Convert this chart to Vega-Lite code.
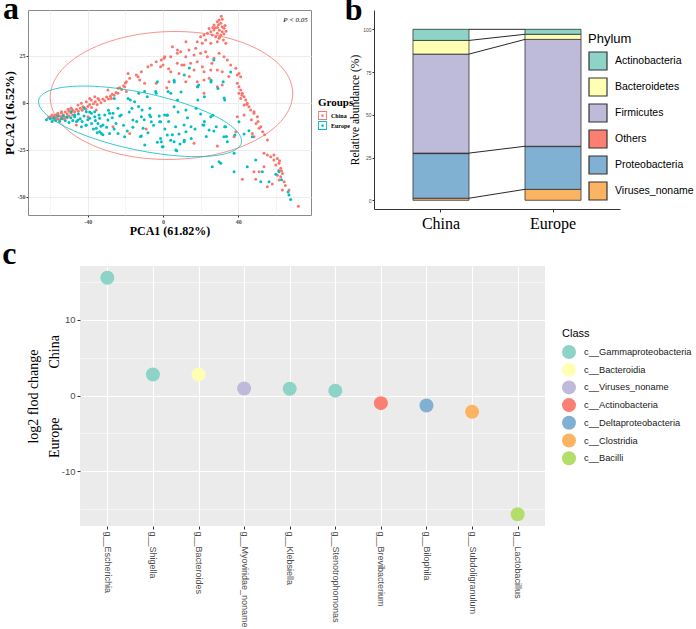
{
"$schema": "https://vega.github.io/schema/vega-lite/v6.json",
"padding": {"left": 2, "top": -8, "right": 0, "bottom": 0},
"background": "white",
"config": {"font": "Liberation Sans", "view": {"stroke": null}},
"datasets": {
"pca": [
{"g":"China","x":27.1,"y":41.3},{"g":"China","x":28.9,"y":43.1},{"g":"China","x":29.8,"y":44},{"g":"China","x":30.7,"y":42.2},{"g":"China","x":31.5,"y":40.4},{"g":"China","x":32.4,"y":39.6},{"g":"China","x":31.5,"y":37.8},{"g":"China","x":28.9,"y":36.9},{"g":"China","x":27.1,"y":38.7},{"g":"China","x":25.4,"y":37.8},{"g":"China","x":26.2,"y":36},{"g":"China","x":28,"y":35.1},{"g":"China","x":29.8,"y":34.3},{"g":"China","x":30.7,"y":36},{"g":"China","x":32.4,"y":36.5},{"g":"China","x":23.6,"y":36.9},{"g":"China","x":21.8,"y":36},{"g":"China","x":20,"y":35.1},{"g":"China","x":22.7,"y":33.4},{"g":"China","x":18.2,"y":32.4},{"g":"China","x":20.9,"y":31.6},{"g":"China","x":25.4,"y":31.6},{"g":"China","x":28.9,"y":32.4},{"g":"China","x":31.5,"y":44.4},{"g":"China","x":32.1,"y":33.4},{"g":"China","x":33.4,"y":31.6},{"g":"China","x":29,"y":40},{"g":"China","x":30,"y":38.5},{"g":"China","x":27.8,"y":39.8},{"g":"China","x":33,"y":41},{"g":"China","x":31,"y":46},{"g":"China","x":29.5,"y":41.5},{"g":"China","x":26.5,"y":40},{"g":"China","x":24.5,"y":39.5},{"g":"China","x":33.5,"y":38},{"g":"China","x":30.2,"y":35},
{"g":"China","x":17.4,"y":28.9},{"g":"China","x":13.8,"y":28},{"g":"China","x":9.4,"y":27.1},{"g":"China","x":7.6,"y":26.3},{"g":"China","x":4.1,"y":24.5},{"g":"China","x":0.5,"y":23.6},{"g":"China","x":12.1,"y":24.5},{"g":"China","x":16.5,"y":25.4},{"g":"China","x":20,"y":26.3},{"g":"China","x":22.7,"y":27.1},{"g":"China","x":23.6,"y":24.5},{"g":"China","x":27.1,"y":23.6},{"g":"China","x":29.8,"y":26.3},{"g":"China","x":32.4,"y":24.5},{"g":"China","x":34.2,"y":22.7},{"g":"China","x":18.2,"y":21.8},{"g":"China","x":14.7,"y":21},{"g":"China","x":11.2,"y":20.1},{"g":"China","x":7.6,"y":21},{"g":"China","x":4.1,"y":16.5},{"g":"China","x":16.5,"y":17.4},{"g":"China","x":20.9,"y":19.1},{"g":"China","x":21.8,"y":16.5},{"g":"China","x":25.4,"y":17.4},{"g":"China","x":28.9,"y":17.4},{"g":"China","x":31.5,"y":16.5},{"g":"China","x":36,"y":20.1},{"g":"China","x":8.5,"y":15.6},{"g":"China","x":12.1,"y":11.2},{"g":"China","x":18.2,"y":11.2},{"g":"China","x":21.8,"y":12.1},{"g":"China","x":24.5,"y":13},{"g":"China","x":18.2,"y":8.5},{"g":"China","x":28.9,"y":8.5},{"g":"China","x":31.5,"y":9.4},{"g":"China","x":21.8,"y":5},{"g":"China","x":3.2,"y":11.2},{"g":"China","x":5,"y":29.8},{"g":"China","x":7.7,"y":28},{"g":"China","x":12.2,"y":32.4},{"g":"China","x":-1.3,"y":19.1},{"g":"China","x":2,"y":8},{"g":"China","x":10,"y":20},{"g":"China","x":14,"y":14},{"g":"China","x":26,"y":21},{"g":"China","x":35,"y":14},{"g":"China","x":3,"y":18},
{"g":"China","x":38.7,"y":18.3},{"g":"China","x":40.4,"y":15.6},{"g":"China","x":41.3,"y":13.8},{"g":"China","x":39.5,"y":10.3},{"g":"China","x":40.4,"y":8.5},{"g":"China","x":41.3,"y":6.8},{"g":"China","x":42.2,"y":5},{"g":"China","x":43.1,"y":3.2},{"g":"China","x":44,"y":1.4},{"g":"China","x":44.8,"y":-0.3},{"g":"China","x":45.7,"y":-2.1},{"g":"China","x":41.3,"y":2.3},{"g":"China","x":43.1,"y":-1.2},{"g":"China","x":46.6,"y":-3.9},{"g":"China","x":48.4,"y":-5.6},{"g":"China","x":40.4,"y":5},{"g":"China","x":39.5,"y":14.7},{"g":"China","x":39.5,"y":-7.4},{"g":"China","x":43.1,"y":-6.5},{"g":"China","x":48.4,"y":-4.8},{"g":"China","x":50.2,"y":-7.4},{"g":"China","x":51.1,"y":-13.6},{"g":"China","x":52,"y":-12.8},{"g":"China","x":47.5,"y":-16.3},{"g":"China","x":48.4,"y":-18.1},{"g":"China","x":55.5,"y":-19.8},{"g":"China","x":38.7,"y":-15.4},{"g":"China","x":37.8,"y":-18.1},{"g":"China","x":42,"y":4},{"g":"China","x":44.5,"y":-1},{"g":"China","x":47,"y":-9},{"g":"China","x":49.5,"y":-11},{"g":"China","x":50.5,"y":-10},{"g":"China","x":53,"y":-15.5},{"g":"China","x":54,"y":-17},
{"g":"China","x":16.5,"y":-21.6},{"g":"China","x":28.9,"y":-23},{"g":"China","x":-26.6,"y":-12.8},{"g":"China","x":-17.7,"y":-16.3},{"g":"China","x":-8.9,"y":-14},{"g":"China","x":-46.1,"y":-11.9},{"g":"China","x":-35.5,"y":-3.9},{"g":"China","x":-39.9,"y":-7.4},
{"g":"China","x":42.2,"y":-40.7},{"g":"China","x":49.3,"y":-40.7},{"g":"China","x":53.7,"y":-26.9},{"g":"China","x":55.5,"y":-27.8},{"g":"China","x":57.3,"y":-28.7},{"g":"China","x":59,"y":-27.8},{"g":"China","x":60.8,"y":-29.6},{"g":"China","x":61.7,"y":-32.2},{"g":"China","x":62.6,"y":-34.9},{"g":"China","x":63.5,"y":-37.6},{"g":"China","x":60.8,"y":-38.5},{"g":"China","x":61.7,"y":-41.1},{"g":"China","x":64.4,"y":-42},{"g":"China","x":58.1,"y":-43.2},{"g":"China","x":55.5,"y":-44.7},{"g":"China","x":63.5,"y":-46.4},{"g":"China","x":67,"y":-46.4},{"g":"China","x":48.4,"y":-36.7},{"g":"China","x":51.1,"y":-36.7},{"g":"China","x":53.7,"y":-34},{"g":"China","x":72,"y":-55},{"g":"China","x":59,"y":-30.5},{"g":"China","x":60,"y":-33.1},{"g":"China","x":62.6,"y":-39.4},{"g":"China","x":61.5,"y":-36},{"g":"China","x":62,"y":-30.8},{"g":"China","x":63,"y":-36.2},{"g":"China","x":65,"y":-44},
{"g":"China","x":-3.6,"y":21.8},{"g":"China","x":-0.9,"y":22.7},{"g":"China","x":0.9,"y":24.5},{"g":"China","x":0,"y":20.1},{"g":"China","x":-6.2,"y":20.1},{"g":"China","x":-8,"y":19.1},{"g":"China","x":-11.5,"y":16.5},{"g":"China","x":-14.2,"y":14.7},{"g":"China","x":-18.6,"y":15.6},{"g":"China","x":-13.3,"y":13.8},{"g":"China","x":-12.4,"y":12.1},{"g":"China","x":-19.5,"y":11.2},{"g":"China","x":-17.7,"y":13},{"g":"China","x":-20.4,"y":8.5},{"g":"China","x":-23.9,"y":7.7},{"g":"China","x":-29.3,"y":6.8},{"g":"China","x":-36.3,"y":3.2},{"g":"China","x":-34.6,"y":2.3},{"g":"China","x":-39,"y":2.3},{"g":"China","x":-38.1,"y":1.4},{"g":"China","x":-40.8,"y":0.5},{"g":"China","x":-43.4,"y":-0.3},{"g":"China","x":-42.6,"y":-2.1},{"g":"China","x":-45.2,"y":-1.2},{"g":"China","x":-48.8,"y":-3},{"g":"China","x":-50.5,"y":-3.5},{"g":"China","x":-54,"y":-4.8},{"g":"China","x":-55.9,"y":-5.6},{"g":"China","x":-19.5,"y":5.9},{"g":"China","x":-27.5,"y":2.3},{"g":"China","x":-3.6,"y":10.3},{"g":"China","x":-9.8,"y":10.3},
{"g":"China","x":-61,"y":-8},{"g":"China","x":-60,"y":-7.5},{"g":"China","x":-59,"y":-8},{"g":"China","x":-58,"y":-7},{"g":"China","x":-57,"y":-6.5},{"g":"China","x":-57,"y":-8},{"g":"China","x":-56,"y":-6},{"g":"China","x":-55,"y":-7},{"g":"China","x":-54,"y":-5.5},{"g":"China","x":-53,"y":-6.5},{"g":"China","x":-52,"y":-5},{"g":"China","x":-51,"y":-6},{"g":"China","x":-50,"y":-4.5},{"g":"China","x":-49,"y":-5.5},{"g":"China","x":-48,"y":-4},{"g":"China","x":-47,"y":-5},{"g":"China","x":-46,"y":-3.5},{"g":"China","x":-45,"y":-4.5},{"g":"China","x":-44,"y":-3},{"g":"China","x":-43,"y":-4},{"g":"China","x":-42,"y":-2.5},{"g":"China","x":-41,"y":-3.5},{"g":"China","x":-40,"y":-2},{"g":"China","x":-39,"y":-1},{"g":"China","x":-38,"y":-2.5},{"g":"China","x":-37,"y":-0.5},{"g":"China","x":-36,"y":0.5},{"g":"China","x":-35,"y":-1},{"g":"China","x":-34,"y":1.5},{"g":"China","x":-33,"y":0},{"g":"China","x":-32,"y":2},{"g":"China","x":-31,"y":1},{"g":"China","x":-30,"y":3},{"g":"China","x":-29,"y":2},{"g":"China","x":-28,"y":3.5},{"g":"China","x":-27,"y":4.5},{"g":"China","x":-26,"y":4},{"g":"China","x":-25,"y":5.5},{"g":"China","x":-24,"y":5},{"g":"China","x":-23,"y":8},{"g":"China","x":-22,"y":7},{"g":"China","x":-21,"y":9},{"g":"China","x":-20,"y":10.5},{"g":"China","x":-56,"y":-8.5},{"g":"China","x":-54,"y":-7.5},{"g":"China","x":-52,"y":-7.8},{"g":"China","x":-50,"y":-7},{"g":"China","x":-48,"y":-6.5},{"g":"China","x":-53,"y":-8.5},{"g":"China","x":-58,"y":-9},{"g":"China","x":-59,"y":-6.5},{"g":"China","x":-55,"y":-9},{"g":"China","x":-51,"y":-8},{"g":"China","x":-49,"y":-3},
{"g":"Europe","x":-62,"y":-9},{"g":"Europe","x":-60,"y":-8.5},{"g":"Europe","x":-59,"y":-10},{"g":"Europe","x":-58,"y":-8},{"g":"Europe","x":-57,"y":-9.5},{"g":"Europe","x":-56,"y":-7},{"g":"Europe","x":-55,"y":-10},{"g":"Europe","x":-54,"y":-8.5},{"g":"Europe","x":-53,"y":-7},{"g":"Europe","x":-52,"y":-9.5},{"g":"Europe","x":-51,"y":-7.5},{"g":"Europe","x":-50,"y":-10.5},{"g":"Europe","x":-49,"y":-8},{"g":"Europe","x":-48,"y":-9.5},{"g":"Europe","x":-47,"y":-7.5},{"g":"Europe","x":-46,"y":-10},{"g":"Europe","x":-45,"y":-6},{"g":"Europe","x":-44,"y":-8.5},{"g":"Europe","x":-43,"y":-10},{"g":"Europe","x":-42,"y":-7},{"g":"Europe","x":-41,"y":-12},{"g":"Europe","x":-40,"y":-9},{"g":"Europe","x":-39,"y":-5},{"g":"Europe","x":-38,"y":-11},{"g":"Europe","x":-37,"y":-14},{"g":"Europe","x":-36,"y":-9.5},{"g":"Europe","x":-35,"y":-16},{"g":"Europe","x":-34,"y":-6.5},{"g":"Europe","x":-33,"y":-12.5},{"g":"Europe","x":-32,"y":-17},{"g":"Europe","x":-30,"y":-13},{"g":"Europe","x":-29,"y":-4},{"g":"Europe","x":-27,"y":-8},{"g":"Europe","x":-26,"y":-14},{"g":"Europe","x":-25,"y":-11},{"g":"Europe","x":-24,"y":-3},{"g":"Europe","x":-23,"y":-7},{"g":"Europe","x":-21,"y":-12},{"g":"Europe","x":-19,"y":-15},{"g":"Europe","x":-18,"y":-5},{"g":"Europe","x":-16,"y":-13},{"g":"Europe","x":-14,"y":-10},{"g":"Europe","x":-13,"y":-2},{"g":"Europe","x":-12,"y":-18},{"g":"Europe","x":-10,"y":-9},{"g":"Europe","x":-8,"y":-16},{"g":"Europe","x":-7,"y":-3},{"g":"Europe","x":-5,"y":-12},{"g":"Europe","x":-3,"y":-21},{"g":"Europe","x":-2,"y":-7},{"g":"Europe","x":1,"y":-14},{"g":"Europe","x":3,"y":-10},{"g":"Europe","x":5,"y":-17},{"g":"Europe","x":8,"y":-5},{"g":"Europe","x":9,"y":-22},{"g":"Europe","x":13,"y":-8},{"g":"Europe","x":15,"y":-19},{"g":"Europe","x":17,"y":-14},{"g":"Europe","x":20,"y":-6},{"g":"Europe","x":22,"y":-10},{"g":"Europe","x":23,"y":-18},{"g":"Europe","x":27,"y":-15},
{"g":"Europe","x":-40.8,"y":-4.8},{"g":"Europe","x":-38.1,"y":-5.6},{"g":"Europe","x":-39,"y":-8.3},{"g":"Europe","x":-36.3,"y":-7.4},{"g":"Europe","x":-33.7,"y":-8.3},{"g":"Europe","x":-34.6,"y":-11},{"g":"Europe","x":-31.9,"y":-11.9},{"g":"Europe","x":-35.5,"y":-13.6},{"g":"Europe","x":-33.7,"y":-15.4},{"g":"Europe","x":-32.8,"y":-16.3},{"g":"Europe","x":-43.4,"y":-12.8},{"g":"Europe","x":-45.2,"y":-9.2},{"g":"Europe","x":-28.4,"y":-5.6},{"g":"Europe","x":-26.6,"y":-5.6},{"g":"Europe","x":-28.4,"y":-16.3},{"g":"Europe","x":-23.9,"y":-16.3},{"g":"Europe","x":-22.2,"y":-6.5},{"g":"Europe","x":-20.4,"y":-18.1},{"g":"Europe","x":-16,"y":-9.2},{"g":"Europe","x":-11.5,"y":-7.4},{"g":"Europe","x":-10.6,"y":-13.6},{"g":"Europe","x":-7.1,"y":-6.5},{"g":"Europe","x":-6.2,"y":-10.1},{"g":"Europe","x":-11.5,"y":-17.7},{"g":"Europe","x":-9.7,"y":-22.5},{"g":"Europe","x":-1.8,"y":-10.1},{"g":"Europe","x":-0.9,"y":-20.7},{"g":"Europe","x":0,"y":-23.4},{"g":"Europe","x":0.9,"y":-6.5},{"g":"Europe","x":-47,"y":-6.5},{"g":"Europe","x":-48.8,"y":-4.8},{"g":"Europe","x":-40.8,"y":-11.9},{"g":"Europe","x":-29.3,"y":-9.2},{"g":"Europe","x":-31,"y":-6.5},{"g":"Europe","x":-36.3,"y":-4.8},
{"g":"Europe","x":-9.8,"y":5.9},{"g":"Europe","x":-3.6,"y":5},{"g":"Europe","x":-25.9,"y":2.3},{"g":"Europe","x":-18.6,"y":2.3},{"g":"Europe","x":-15.1,"y":0.5},{"g":"Europe","x":2.7,"y":5.9},{"g":"Europe","x":-41.9,"y":-3},
{"g":"Europe","x":4.1,"y":5},{"g":"Europe","x":7.7,"y":1.4},{"g":"Europe","x":12.2,"y":-3.9},{"g":"Europe","x":17.6,"y":-3},{"g":"Europe","x":22,"y":3.2},{"g":"Europe","x":26.5,"y":-6.6},{"g":"Europe","x":28.3,"y":-12.8},{"g":"Europe","x":32.8,"y":-12.8},{"g":"Europe","x":33.7,"y":-18},{"g":"Europe","x":38.2,"y":-17.2},{"g":"Europe","x":-1.3,"y":-19},{"g":"Europe","x":-0.4,"y":-23.4},{"g":"Europe","x":4.1,"y":-19.9},{"g":"Europe","x":6.8,"y":-25.2},{"g":"Europe","x":11.3,"y":-19.9},{"g":"Europe","x":12.2,"y":-15.4},{"g":"Europe","x":14.9,"y":-12.8},{"g":"Europe","x":21.2,"y":-11.9},{"g":"Europe","x":5.9,"y":12},{"g":"Europe","x":11.3,"y":14.7},{"g":"Europe","x":18.5,"y":8.5},{"g":"Europe","x":25.6,"y":12},{"g":"Europe","x":29.2,"y":7.6},{"g":"Europe","x":32,"y":11.2},{"g":"Europe","x":32.8,"y":1.4},{"g":"Europe","x":18.5,"y":1.4},{"g":"Europe","x":-3,"y":11.2},{"g":"Europe","x":-3.9,"y":5.9},{"g":"Europe","x":-8.4,"y":3.2},{"g":"Europe","x":-12.9,"y":5},{"g":"Europe","x":-17.4,"y":1.4},{"g":"Europe","x":-16.5,"y":-3},{"g":"Europe","x":-11.1,"y":-3.9},{"g":"Europe","x":-6.6,"y":-7.4},{"g":"Europe","x":-1.3,"y":-10.1},{"g":"Europe","x":2.3,"y":-6.6},{"g":"Europe","x":5.9,"y":-2.1},
{"g":"Europe","x":27,"y":22.7},{"g":"Europe","x":36,"y":16.3},{"g":"Europe","x":14,"y":18.4},{"g":"Europe","x":6,"y":11},{"g":"Europe","x":19,"y":9.4},{"g":"Europe","x":25.5,"y":11},{"g":"Europe","x":32.5,"y":2.5},{"g":"Europe","x":9.6,"y":5.7},
{"g":"Europe","x":2.3,"y":-6.5},{"g":"Europe","x":6.7,"y":-12.8},{"g":"Europe","x":11.2,"y":-11.9},{"g":"Europe","x":2.3,"y":-17.2},{"g":"Europe","x":8.5,"y":-16.6},{"g":"Europe","x":5.9,"y":-20.7},{"g":"Europe","x":11.2,"y":-20.7},{"g":"Europe","x":7.3,"y":-25.5},{"g":"Europe","x":21.8,"y":-11.9},{"g":"Europe","x":24.5,"y":-14.5},{"g":"Europe","x":25.4,"y":-7.4},{"g":"Europe","x":33.3,"y":-12.8},{"g":"Europe","x":32.4,"y":-18.1},{"g":"Europe","x":34.2,"y":-20.7},{"g":"Europe","x":40.4,"y":-10.1},{"g":"Europe","x":43.1,"y":-16.6},{"g":"Europe","x":45.7,"y":-14.9},{"g":"Europe","x":47.5,"y":-18.1},{"g":"Europe","x":37.8,"y":-26.9},{"g":"Europe","x":29.8,"y":-31.4},{"g":"Europe","x":30.7,"y":-32.2},{"g":"Europe","x":26.2,"y":-34},{"g":"Europe","x":37.8,"y":-36.7},{"g":"Europe","x":44.8,"y":-34},{"g":"Europe","x":49.3,"y":-30.5},{"g":"Europe","x":52.8,"y":-36.7},{"g":"Europe","x":52,"y":-42},{"g":"Europe","x":56.4,"y":-42},{"g":"Europe","x":61.7,"y":-36.7},{"g":"Europe","x":67,"y":-49},{"g":"Europe","x":67.9,"y":-51.4},{"g":"Europe","x":60,"y":-38},{"g":"Europe","x":63,"y":-41},{"g":"Europe","x":66.5,"y":-47.5}
],
"ell": [
{"g":"China","k":0,"x":68.99,"y":5.2},{"g":"China","k":1,"x":66.61,"y":13.95},{"g":"China","k":2,"x":59.99,"y":22.02},{"g":"China","k":3,"x":49.6,"y":28.84},{"g":"China","k":4,"x":36.13,"y":33.97},{"g":"China","k":5,"x":20.5,"y":37.03},{"g":"China","k":6,"x":3.79,"y":37.84},{"g":"China","k":7,"x":-12.88,"y":36.34},{"g":"China","k":8,"x":-28.36,"y":32.61},{"g":"China","k":9,"x":-41.6,"y":26.93},{"g":"China","k":10,"x":-51.7,"y":19.68},{"g":"China","k":11,"x":-57.97,"y":11.34},{"g":"China","k":12,"x":-59.99,"y":2.5},{"g":"China","k":13,"x":-57.6,"y":-6.25},{"g":"China","k":14,"x":-50.99,"y":-14.32},{"g":"China","k":15,"x":-40.59,"y":-21.14},{"g":"China","k":16,"x":-27.12,"y":-26.27},{"g":"China","k":17,"x":-11.5,"y":-29.34},{"g":"China","k":18,"x":5.21,"y":-30.14},{"g":"China","k":19,"x":21.88,"y":-28.64},{"g":"China","k":20,"x":37.36,"y":-24.91},{"g":"China","k":21,"x":50.6,"y":-19.23},{"g":"China","k":22,"x":60.71,"y":-11.98},{"g":"China","k":23,"x":66.97,"y":-3.64},
{"g":"Europe","k":0,"x":41.73,"y":-21.22},{"g":"Europe","k":1,"x":40.7,"y":-16.95},{"g":"Europe","k":2,"x":36.07,"y":-12.21},{"g":"Europe","k":3,"x":28.15,"y":-7.31},{"g":"Europe","k":4,"x":17.48,"y":-2.59},{"g":"Europe","k":5,"x":4.79,"y":1.64},{"g":"Europe","k":6,"x":-9.06,"y":5.07},{"g":"Europe","k":7,"x":-23.12,"y":7.49},{"g":"Europe","k":8,"x":-36.44,"y":8.73},{"g":"Europe","k":9,"x":-48.11,"y":8.69},{"g":"Europe","k":10,"x":-57.33,"y":7.39},{"g":"Europe","k":11,"x":-63.48,"y":4.91},{"g":"Europe","k":12,"x":-66.13,"y":1.42},{"g":"Europe","k":13,"x":-65.1,"y":-2.85},{"g":"Europe","k":14,"x":-60.47,"y":-7.59},{"g":"Europe","k":15,"x":-52.55,"y":-12.49},{"g":"Europe","k":16,"x":-41.88,"y":-17.21},{"g":"Europe","k":17,"x":-29.2,"y":-21.44},{"g":"Europe","k":18,"x":-15.34,"y":-24.87},{"g":"Europe","k":19,"x":-1.28,"y":-27.29},{"g":"Europe","k":20,"x":12.04,"y":-28.53},{"g":"Europe","k":21,"x":23.71,"y":-28.49},{"g":"Europe","k":22,"x":32.93,"y":-27.19},{"g":"Europe","k":23,"x":39.08,"y":-24.71}
],
"phy": [
{"grp":"China","phylum":"Viruses_noname","pct":1.2,"o":1},{"grp":"China","phylum":"Proteobacteria","pct":26.1,"o":2},{"grp":"China","phylum":"Others","pct":0.3,"o":3},{"grp":"China","phylum":"Firmicutes","pct":57.9,"o":4},{"grp":"China","phylum":"Bacteroidetes","pct":8.0,"o":5},{"grp":"China","phylum":"Actinobacteria","pct":6.5,"o":6},
{"grp":"Europe","phylum":"Viruses_noname","pct":6.4,"o":1},{"grp":"Europe","phylum":"Proteobacteria","pct":25.0,"o":2},{"grp":"Europe","phylum":"Others","pct":0.2,"o":3},{"grp":"Europe","phylum":"Firmicutes","pct":62.5,"o":4},{"grp":"Europe","phylum":"Bacteroidetes","pct":3.0,"o":5},{"grp":"Europe","phylum":"Actinobacteria","pct":2.9,"o":6}
],
"links": [
{"from":"China","to":"Europe","y1":1.2,"y2":6.4},{"from":"China","to":"Europe","y1":27.6,"y2":31.6},{"from":"China","to":"Europe","y1":85.5,"y2":94.1},{"from":"China","to":"Europe","y1":93.5,"y2":97.1},{"from":"China","to":"Europe","y1":100,"y2":100}
],
"lfc": [
{"genus":"g__Escherichia","lfc":15.57,"cls":"c__Gammaproteobacteria"},{"genus":"g__Shigella","lfc":2.77,"cls":"c__Gammaproteobacteria"},{"genus":"g__Bacteroides","lfc":2.77,"cls":"c__Bacteroidia"},{"genus":"g__Myoviridae_noname","lfc":0.92,"cls":"c__Viruses_noname"},{"genus":"g__Klebsiella","lfc":0.9,"cls":"c__Gammaproteobacteria"},{"genus":"g__Stenotrophomonas","lfc":0.64,"cls":"c__Gammaproteobacteria"},{"genus":"g__Brevibacterium","lfc":-1.01,"cls":"c__Actinobacteria"},{"genus":"g__Bilophila","lfc":-1.32,"cls":"c__Deltaproteobacteria"},{"genus":"g__Subdoligranulum","lfc":-2.15,"cls":"c__Clostridia"},{"genus":"g__Lactobacillus","lfc":-15.7,"cls":"c__Bacilli"}
]
},
"columns": 1,
"align": "none",
"spacing": 1,
"resolve": {"scale": {"color": "independent", "x": "independent", "y": "independent"}, "legend": {"color": "independent"}},
"concat": [
{
"columns": 2,
"align": "none",
"spacing": -11,
"resolve": {"scale": {"color": "independent", "x": "independent", "y": "independent"}, "legend": {"color": "independent"}},
"concat": [
{
"title": {"text": "a", "anchor": "start", "frame": "bounds", "font": "Liberation Serif", "fontSize": 32, "fontWeight": "bold", "color": "black", "offset": -16},
"width": 283, "height": 205,
"view": {"stroke": "#8a8a8a", "strokeWidth": 1},
"layer": [
{"data": {"name": "pca"},
 "mark": {"type": "point", "filled": true, "shape": "circle", "size": 9, "opacity": 1},
 "encoding": {
  "x": {"field": "x", "type": "quantitative", "scale": {"domain": [-71.8, 78.7], "nice": false, "zero": false},
   "axis": {"values": [-60,-40,-20,0,20,40,60], "labelExpr": "datum.value % 40 == 0 ? '' + datum.value : ''", "grid": true, "gridColor": "#EBEBEB", "gridWidth": {"condition": {"test": "datum.value % 40 != 0", "value": 0.5}, "value": 0.9}, "tickColor": {"condition": {"test": "datum.value % 40 != 0", "value": "transparent"}, "value": "#333333"}, "tickSize": 2, "domain": false, "labelFont": "Liberation Serif", "labelFontWeight": "bold", "labelFontSize": 6, "labelColor": "#4d4d4d", "labelPadding": 1, "title": "PCA1 (61.82%)", "titleFont": "Liberation Serif", "titleFontWeight": "bold", "titleFontSize": 12, "titleColor": "black", "titlePadding": 1}},
  "y": {"field": "y", "type": "quantitative", "scale": {"domain": [-59.7, 49.3], "nice": false, "zero": false},
   "axis": {"values": [-50,-37.5,-25,-12.5,0,12.5,25,37.5], "labelExpr": "datum.value % 25 == 0 ? '' + datum.value : ''", "grid": true, "gridColor": "#EBEBEB", "gridWidth": {"condition": {"test": "datum.value % 25 != 0", "value": 0.5}, "value": 0.9}, "tickColor": {"condition": {"test": "datum.value % 25 != 0", "value": "transparent"}, "value": "#333333"}, "tickSize": 2, "domain": false, "labelFont": "Liberation Serif", "labelFontWeight": "bold", "labelFontSize": 6, "labelColor": "#4d4d4d", "labelPadding": 1, "title": "PCA2 (16.52%)", "titleFont": "Liberation Serif", "titleFontWeight": "bold", "titleFontSize": 12.5, "titleColor": "black", "titlePadding": 1}},
  "color": {"field": "g", "type": "nominal", "scale": {"domain": ["China", "Europe"], "range": ["#F8766D", "#00BFC4"]},
   "legend": {"title": "Groups", "orient": "none", "legendX": 290, "legendY": 87, "titleFont": "Liberation Serif", "titleFontWeight": "bold", "titleFontSize": 11, "titleColor": "black", "labelFont": "Liberation Serif", "labelFontWeight": "bold", "labelFontSize": 6, "labelColor": "black", "symbolType": "M-1,-1H1V1H-1Z M-0.8,-0.8V0.8H0.8V-0.8Z M-0.25,-0.25H0.25V0.25H-0.25Z", "symbolSize": 81, "symbolStrokeWidth": 0, "symbolOpacity": 1, "rowPadding": 1, "labelOffset": 4, "titlePadding": 3}}
 }},
{"data": {"name": "ell"},
 "mark": {"type": "line", "interpolate": "cardinal-closed", "strokeWidth": 0.8},
 "encoding": {
  "x": {"field": "x", "type": "quantitative"},
  "y": {"field": "y", "type": "quantitative"},
  "color": {"field": "g", "type": "nominal", "legend": null},
  "order": {"field": "k", "type": "quantitative"}
 }},
{"data": {"values": [{"x": 77, "y": 44, "t": "P < 0.05"}]},
 "mark": {"type": "text", "align": "right", "baseline": "middle", "font": "Liberation Serif", "fontStyle": "italic", "fontSize": 7, "color": "black"},
 "encoding": {"x": {"field": "x", "type": "quantitative"}, "y": {"field": "y", "type": "quantitative"}, "text": {"field": "t"}}}
]
},
{
"title": {"text": "b", "anchor": "start", "frame": "bounds", "font": "Liberation Serif", "fontSize": 32, "fontWeight": "bold", "color": "black", "offset": -17, "dx": -5},
"width": 246, "height": 199,
"layer": [
{"data": {"name": "phy"},
 "mark": {"type": "bar", "stroke": "#333333", "strokeWidth": 0.8},
 "encoding": {
  "x": {"field": "grp", "type": "nominal", "scale": {"paddingInner": 0.5, "paddingOuter": 0.348},
   "axis": {"labelAngle": 0, "labelFont": "Liberation Serif", "labelFontSize": 16, "labelColor": "black", "tickSize": 3, "tickColor": "#333333", "domainColor": "#333333", "title": null, "labelPadding": 3}},
  "y": {"field": "pct", "type": "quantitative", "stack": "zero", "scale": {"domain": [-5.1, 111.3], "nice": false, "zero": false},
   "axis": {"values": [0,25,50,75,100], "grid": false, "labelFontSize": 5, "labelColor": "#4d4d4d", "tickSize": 2, "tickColor": "#333333", "domainColor": "#333333", "labelPadding": 1, "title": "Relative abundance (%)", "titleFont": "Liberation Serif", "titleFontSize": 11.5, "titleFontWeight": "normal", "titleColor": "black", "titlePadding": 2}},
  "color": {"field": "phylum", "type": "nominal", "scale": {"domain": ["Actinobacteria","Bacteroidetes","Firmicutes","Others","Proteobacteria","Viruses_noname"], "range": ["#8DD3C7","#FFFFB3","#BEBADA","#FB8072","#80B1D3","#FDB462"]},
   "legend": {"title": "Phylum", "orient": "none", "legendX": 214, "legendY": 23, "titleFont": "Liberation Sans", "titleFontSize": 13, "titleFontWeight": "normal", "titleColor": "black", "labelFont": "Liberation Sans", "labelFontSize": 10.5, "labelColor": "black", "symbolType": "square", "symbolSize": 324, "symbolStrokeColor": "#333333", "symbolStrokeWidth": 1.2, "symbolOpacity": 1, "rowPadding": 2, "labelOffset": 7, "titlePadding": 5}},
  "order": {"field": "o", "type": "quantitative"}
 }},
{"data": {"name": "links"},
 "mark": {"type": "rule", "color": "#111111", "strokeWidth": 0.9},
 "encoding": {
  "x": {"field": "from", "type": "nominal", "bandPosition": 1},
  "x2": {"field": "to", "bandPosition": 0},
  "y": {"field": "y1", "type": "quantitative"},
  "y2": {"field": "y2"}
 }}
]
}
]
},
{
"columns": 2,
"align": "none",
"spacing": -27,
"resolve": {"scale": {"color": "independent", "x": "independent", "y": "independent"}, "legend": {"color": "independent"}},
"concat": [
{"width": 1, "height": 1, "data": {"values": []}, "mark": {"type": "point", "opacity": 0}, "encoding": {}},
{
"title": {"text": "c", "anchor": "start", "frame": "bounds", "font": "Liberation Serif", "fontSize": 32, "fontWeight": "bold", "color": "black", "offset": -5, "dx": -24},
"width": 465, "height": 260,
"view": {"fill": "#EBEBEB", "stroke": null},
"data": {"name": "lfc"},
"mark": {"type": "circle", "size": 196, "opacity": 1},
"encoding": {
 "x": {"field": "genus", "type": "nominal", "sort": null, "scale": {"type": "point", "padding": 0.6},
  "axis": {"labelAngle": 90, "labelFontSize": 9, "labelColor": "#4D4D4D", "labelLimit": 300, "tickColor": "#333333", "tickSize": 3, "domain": false, "grid": true, "gridColor": "white", "gridWidth": 1.1, "title": null, "labelPadding": 2}},
 "y": {"field": "lfc", "type": "quantitative", "scale": {"domain": [-17.26, 17.13], "nice": false, "zero": false},
  "axis": {"values": [-15,-10,-5,0,5,10,15], "labelExpr": "datum.value % 10 == 0 ? '' + datum.value : ''", "grid": true, "gridColor": "white", "gridWidth": {"condition": {"test": "datum.value % 10 != 0", "value": 0.5}, "value": 1.1}, "tickColor": {"condition": {"test": "datum.value % 10 != 0", "value": "transparent"}, "value": "#333333"}, "tickSize": 3, "domain": false, "labelFontSize": 9.5, "labelColor": "#4D4D4D", "labelPadding": 2,
   "title": ["log2 flod change", "Europe\u00a0\u00a0\u00a0\u00a0\u00a0\u00a0\u00a0\u00a0\u00a0\u00a0\u00a0\u00a0\u00a0\u00a0China"], "titleFont": "Liberation Serif", "titleFontSize": 14, "titleFontWeight": "normal", "titleColor": "black", "titleLineHeight": 21, "titlePadding": 0}},
 "color": {"field": "cls", "type": "nominal", "scale": {"domain": ["c__Gammaproteobacteria","c__Bacteroidia","c__Viruses_noname","c__Actinobacteria","c__Deltaproteobacteria","c__Clostridia","c__Bacilli"], "range": ["#8DD3C7","#FFFFB3","#BEBADA","#FB8072","#80B1D3","#FDB462","#B3DE69"]},
  "legend": {"title": "Class", "orient": "none", "legendX": 482, "legendY": 62, "titleFont": "Liberation Sans", "titleFontSize": 11, "titleFontWeight": "normal", "titleColor": "black", "labelFontSize": 9.3, "labelColor": "#1a1a1a", "symbolType": "circle", "symbolSize": 196, "symbolStrokeWidth": 0, "symbolOpacity": 1, "rowPadding": 3.7, "labelOffset": 8, "titlePadding": 6}}
}
}
]
}
]
}
